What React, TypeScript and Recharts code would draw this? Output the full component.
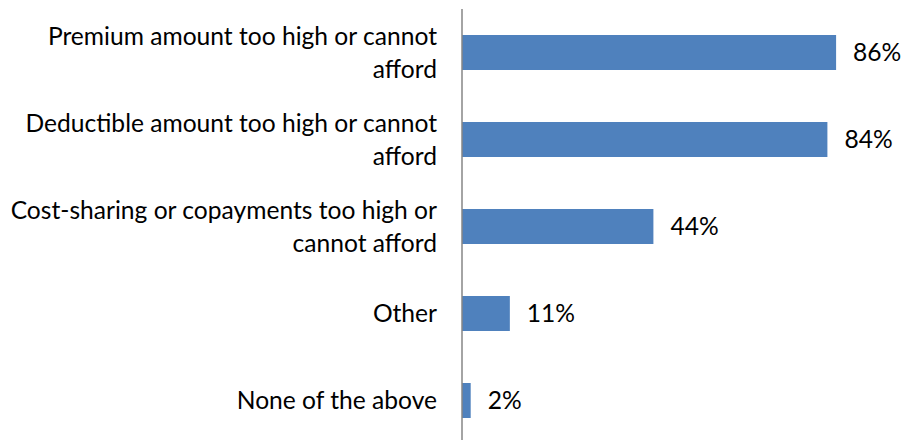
import { BarChart, Bar, XAxis, YAxis, LabelList } from 'recharts';

const categories = [
  'Premium amount too high or cannot afford',
  'Deductible amount too high or cannot afford',
  'Cost-sharing or copayments too high or cannot afford',
  'Other',
  'None of the above',
];

// line breaks as they appear in the picture
const labelLines = [
  ['Premium amount too high or cannot', 'afford'],
  ['Deductible amount too high or cannot', 'afford'],
  ['Cost-sharing or copayments too high or', 'cannot afford'],
  ['Other'],
  ['None of the above'],
];

const values = [86, 84, 44, 11, 2];

const data = categories.map((name, i) => ({ name, value: values[i] }));

const FONT = 'Lato, "Open Sans", sans-serif';
const FONT_SIZE = 24.6;
const LINE_H = 33;

const CategoryTick = (props: any) => {
  const { x, y, payload } = props;
  const idx = categories.indexOf(payload.value);
  const lines = labelLines[idx] ?? [payload.value];
  const start = -((lines.length - 1) * LINE_H) / 2;
  return (
    <text
      x={x}
      y={y}
      textAnchor="end"
      fontFamily={FONT}
      fontSize={FONT_SIZE}
      fill="#000"
    >
      {lines.map((line, i) => (
        <tspan key={i} x={x} y={y + start + i * LINE_H} dy="0.35em">
          {line}
        </tspan>
      ))}
    </text>
  );
};

export default function App() {
  return (
    <div style={{ position: 'absolute', left: 0, top: 0, background: '#fff' }}>
      <BarChart
        width={901}
        height={450}
        data={data}
        layout="vertical"
        margin={{ top: 9, right: 4, bottom: 6, left: 0 }}
        barSize={35}
      >
        <XAxis type="number" domain={[0, 100]} hide />
        <YAxis
          type="category"
          dataKey="name"
          width={462}
          tick={<CategoryTick />}
          tickLine={false}
          tickSize={0}
          tickMargin={25}
          axisLine={{ stroke: '#868686', strokeWidth: 1.5 }}
          interval={0}
        />
        <Bar dataKey="value" fill="#4F81BD" isAnimationActive={false}>
          <LabelList
            dataKey="value"
            position="right"
            offset={17}
            formatter={(v: any) => `${v}%`}
            style={{ fontFamily: FONT, fontSize: FONT_SIZE, fill: '#000' }}
          />
        </Bar>
      </BarChart>
    </div>
  );
}
